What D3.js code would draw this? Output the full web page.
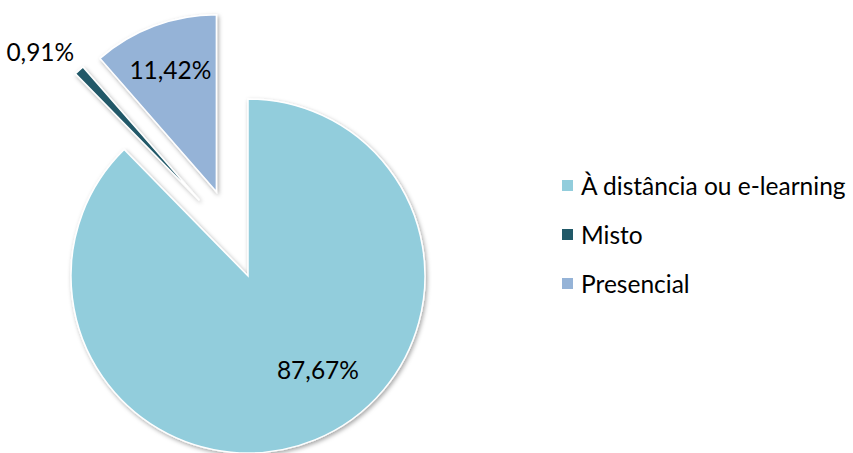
<!DOCTYPE html>
<html>
<head>
<meta charset="utf-8">
<script src="https://cdn.jsdelivr.net/npm/d3@7"></script>
<style>
  html, body { margin: 0; padding: 0; background: #ffffff; }
  svg { display: block; }
  text { font-family: Lato, "Open Sans", sans-serif; fill: #000; }
</style>
</head>
<body>
<svg id="chart" width="853" height="453"></svg>
<script>
// Modalidade de formação: share of each delivery mode (%)
const categories = ["À distância ou e-learning", "Misto", "Presencial"];
const values = [87.67, 0.91, 11.42];
const valueLabels = ["87,67%", "0,91%", "11,42%"];
const colors = ["#92CDDC", "#215968", "#95B3D7"];

// Layout
const W = 853, H = 453;
const cx = 248, cy = 276, R = 177;
const explode = [0, 90, 90];          // outward shift of each slice
const explodeTurn = [0, 10, 0];       // degrees the shift direction is turned from the bisector
const labelRadius = [117, 216, 131];  // label distance from the slice apex
const labelAngleShift = [-14.5, 0, 0];// degrees, rotates label away from the bisector
const fontSize = 24.5;

const svg = d3.select("#chart");

const defs = svg.append("defs");
const f = defs.append("filter").attr("id", "shadow")
  .attr("x", "-20%").attr("y", "-20%").attr("width", "140%").attr("height", "140%");
f.append("feDropShadow")
  .attr("dx", 1.5).attr("dy", 2).attr("stdDeviation", 2.2)
  .attr("flood-color", "#000").attr("flood-opacity", 0.35);

const pie = d3.pie().sort(null).value(d => d).startAngle(0).endAngle(2 * Math.PI);
const arcs = pie(values);
const arc = d3.arc().innerRadius(0).outerRadius(R);

const g = svg.append("g").attr("transform", `translate(${cx},${cy})`);

function offset(a, dist, shiftDeg = 0) {
  const mid = (a.startAngle + a.endAngle) / 2 + shiftDeg * Math.PI / 180;
  return [Math.sin(mid) * dist, -Math.cos(mid) * dist];
}

g.selectAll("path.slice")
  .data(arcs)
  .join("path")
  .attr("class", "slice")
  .attr("d", arc)
  .attr("transform", (d, i) => {
    const [dx, dy] = offset(d, explode[i], explodeTurn[i]);
    return `translate(${dx},${dy})`;
  })
  .attr("fill", (d, i) => colors[i])
  .attr("stroke", "#ffffff")
  .attr("stroke-width", 1.5)
  .attr("stroke-linejoin", "miter")
  .attr("filter", "url(#shadow)");

g.selectAll("text.val")
  .data(arcs)
  .join("text")
  .attr("class", "val")
  .attr("transform", (d, i) => {
    const [ex, ey] = offset(d, explode[i]);
    const [lx, ly] = offset(d, labelRadius[i], labelAngleShift[i]);
    return `translate(${ex + lx},${ey + ly})`;
  })
  .attr("text-anchor", "middle")
  .attr("dominant-baseline", "central")
  .attr("font-size", fontSize)
  .text((d, i) => valueLabels[i]);

// Legend
const legend = svg.append("g").attr("transform", "translate(562,185.5)");
const rowH = 49;
const item = legend.selectAll("g.item")
  .data(categories)
  .join("g")
  .attr("class", "item")
  .attr("transform", (d, i) => `translate(0,${i * rowH})`);
item.append("rect")
  .attr("x", 0).attr("y", -5.5).attr("width", 11).attr("height", 11)
  .attr("fill", (d, i) => colors[i]);
item.append("text")
  .attr("x", 19).attr("y", 0)
  .attr("dominant-baseline", "central")
  .attr("font-size", fontSize)
  .text(d => d);
</script>
</body>
</html>
